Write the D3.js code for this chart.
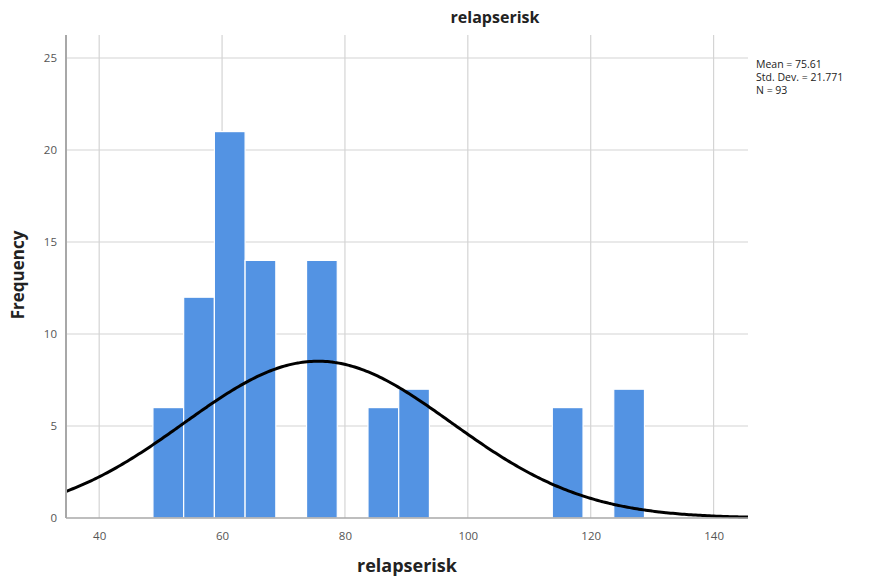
<!DOCTYPE html>
<html>
<head>
<meta charset="utf-8">
<script src="https://cdn.jsdelivr.net/npm/d3@7"></script>
<style>
  body { margin: 0; background: #fff; }
  svg { display: block; font-family: "Open Sans", "DejaVu Sans", sans-serif; }
</style>
</head>
<body>
<svg id="chart" width="875" height="576"></svg>
<script>
// ---- data ----
const title = "relapserisk";
const xLabel = "relapserisk";
const yLabel = "Frequency";
const binStarts = [48.75, 53.75, 58.75, 63.75, 73.75, 83.75, 88.75, 113.75, 123.75];
const binWidth = 5;
const counts = [6, 12, 21, 14, 14, 6, 7, 6, 7];
const xTicks = [40, 60, 80, 100, 120, 140];
const yTicks = [0, 5, 10, 15, 20, 25];
const stats = { mean: 75.61, sd: 21.771, n: 93 };
const statLines = ["Mean = 75.61", "Std. Dev. = 21.771", "N = 93"];

// ---- layout ----
const svg = d3.select("#chart");
const pLeft = 66, pRight = 748, pTop = 35, pBottom = 518;

const x = d3.scaleLinear().domain([34.6, 145.6]).range([pLeft, pRight]);
const y = d3.scaleLinear().domain([0, 25]).range([pBottom, 58]);

// gridlines
svg.append("g").selectAll("line").data(xTicks).join("line")
  .attr("x1", d => x(d)).attr("x2", d => x(d))
  .attr("y1", pTop).attr("y2", pBottom)
  .attr("stroke", "#d4d4d4").attr("stroke-width", 1.2);
svg.append("g").selectAll("line").data(yTicks.filter(d => d > 0)).join("line")
  .attr("x1", pLeft).attr("x2", pRight)
  .attr("y1", d => y(d)).attr("y2", d => y(d))
  .attr("stroke", "#d4d4d4").attr("stroke-width", 1.2);

// bars
const bars = binStarts.map((s, i) => ({ x0: s, x1: s + binWidth, c: counts[i] }));
svg.append("g").selectAll("rect").data(bars).join("rect")
  .attr("x", d => x(d.x0))
  .attr("width", d => x(d.x1) - x(d.x0))
  .attr("y", d => y(d.c))
  .attr("height", d => y(0) - y(d.c))
  .attr("fill", "#5393e3")
  .attr("stroke", "#ffffff")
  .attr("stroke-width", 1.2);

// normal curve
const scaleK = stats.n * binWidth / (stats.sd * Math.sqrt(2 * Math.PI));
const curvePts = d3.range(0, 301).map(i => {
  const v = 34.6 + (145.6 - 34.6) * i / 300;
  return [v, scaleK * Math.exp(-0.5 * Math.pow((v - stats.mean) / stats.sd, 2))];
});
svg.append("path")
  .datum(curvePts)
  .attr("d", d3.line().x(d => x(d[0])).y(d => y(d[1])).curve(d3.curveBasis))
  .attr("fill", "none")
  .attr("stroke", "#000")
  .attr("stroke-width", 3);

// axes
const xAxis = svg.append("g").attr("transform", `translate(0,${pBottom})`)
  .call(d3.axisBottom(x).tickValues(xTicks).tickSize(0).tickPadding(14));
const yAxis = svg.append("g").attr("transform", `translate(${pLeft},0)`)
  .call(d3.axisLeft(y).tickValues(yTicks).tickSize(0).tickPadding(9));
[xAxis, yAxis].forEach(a => {
  a.select(".domain").remove();
  a.selectAll("text").attr("fill", "#555").style("font-size", "11.5px")
    .style("font-family", "'Open Sans', 'DejaVu Sans', sans-serif");
});
svg.append("line").attr("x1", pLeft).attr("x2", pLeft).attr("y1", pTop).attr("y2", pBottom)
  .attr("stroke", "#a8a8a8").attr("stroke-width", 2);
svg.append("line").attr("x1", pLeft).attr("x2", pRight).attr("y1", pBottom).attr("y2", pBottom)
  .attr("stroke", "#a8a8a8").attr("stroke-width", 1.5);

// title
svg.append("text").attr("x", 495).attr("y", 23).attr("text-anchor", "middle")
  .style("font-size", "16px").style("font-weight", "bold").attr("fill", "#222").text(title);

// axis labels
svg.append("text").attr("x", (pLeft + pRight) / 2).attr("y", 572).attr("text-anchor", "middle")
  .style("font-size", "18px").style("font-weight", "bold").attr("fill", "#222").text(xLabel);
svg.append("text").attr("transform", "translate(24,275) rotate(-90)").attr("text-anchor", "middle")
  .style("font-size", "17px").style("font-weight", "bold").attr("fill", "#222").text(yLabel);

// stats
svg.append("g").selectAll("text").data(statLines).join("text")
  .attr("x", 756).attr("y", (d, i) => 68 + i * 13)
  .style("font-size", "10.5px").attr("fill", "#222").text(d => d);
</script>
</body>
</html>
